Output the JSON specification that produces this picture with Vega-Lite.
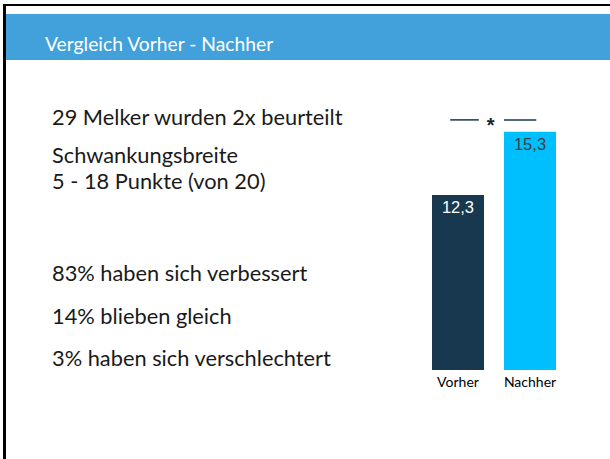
{
  "$schema": "https://vega.github.io/schema/vega-lite/v6.json",
  "padding": {"left": 3, "top": 4, "right": 0, "bottom": 0},
  "background": "white",
  "spacing": 0,
  "config": {
    "view": {"stroke": null},
    "concat": {"spacing": 0},
    "locale": {"number": {"decimal": ",", "thousands": ".", "grouping": [3], "currency": ["", " €"]}}
  },
  "vconcat": [
    {
      "width": 607, "height": 2,
      "view": {"fill": "#000000", "stroke": null},
      "data": {"values": []},
      "mark": "rect",
      "encoding": {}
    },
    {
      "spacing": 0,
      "hconcat": [
        {
          "width": 3, "height": 453,
          "view": {"fill": "#000000", "stroke": null},
          "data": {"values": []},
          "mark": "rect",
          "encoding": {}
        },
        {
          "spacing": 0,
          "vconcat": [
            {
              "width": 604, "height": 8,
              "view": {"fill": "#ffffff", "stroke": null},
              "data": {"values": []},
              "mark": "rect",
              "encoding": {}
            },
            {
              "spacing": 0,
              "hconcat": [
                {
                  "width": 39, "height": 46,
                  "view": {"fill": "#42a1db", "stroke": null},
                  "data": {"values": []},
                  "mark": "rect",
                  "encoding": {}
                },
                {
                  "width": 565, "height": 46,
                  "view": {"fill": "#42a1db", "stroke": null},
                  "data": {"values": [{"titel": "Vergleich Vorher - Nachher"}]},
                  "mark": {"type": "text", "align": "left", "baseline": "alphabetic", "font": "Lato", "fontSize": 19.3, "color": "#ffffff"},
                  "encoding": {
                    "text": {"field": "titel", "type": "nominal"},
                    "x": {"datum": 0, "type": "quantitative", "scale": {"domain": [0, 1]}, "axis": null},
                    "y": {"datum": 0.2, "type": "quantitative", "scale": {"domain": [0, 1]}, "axis": null}
                  }
                }
              ]
            },
            {
              "spacing": 0,
              "hconcat": [
                {
                  "width": 46, "height": 1,
                  "data": {"values": []},
                  "mark": "rect",
                  "encoding": {}
                },
                {
                  "width": 362, "height": 399,
                  "data": {"values": [
                    {"zeile": 1.53, "text": "29 Melker wurden 2x beurteilt"},
                    {"zeile": 2.42, "text": "Schwankungsbreite"},
                    {"zeile": 3.04, "text": "5 - 18 Punkte (von 20)"},
                    {"zeile": 5.2, "text": "83% haben sich verbessert"},
                    {"zeile": 6.21, "text": "14% blieben gleich"},
                    {"zeile": 7.2, "text": "3% haben sich verschlechtert"}
                  ]},
                  "mark": {"type": "text", "align": "left", "baseline": "alphabetic", "font": "Lato", "fontSize": 21.8, "color": "#1a1a1a"},
                  "encoding": {
                    "text": {"field": "text", "type": "nominal"},
                    "x": {"datum": 0, "type": "quantitative", "scale": {"domain": [0, 1]}, "axis": null},
                    "y": {"field": "zeile", "type": "quantitative", "scale": {"domain": [0, 9.388], "reverse": true, "nice": false, "zero": false}, "axis": null}
                  }
                },
                {
                  "width": 160, "height": 310,
                  "layer": [
                    {
                      "data": {"values": [
                        {"zeitpunkt": "Vorher", "punkte": 12.3},
                        {"zeitpunkt": "Nachher", "punkte": 15.3}
                      ]},
                      "layer": [
                        {
                          "mark": {"type": "bar"},
                          "encoding": {
                            "x": {"field": "zeitpunkt", "type": "nominal", "sort": null,
                                  "scale": {"domain": ["Vorher", "Nachher"], "paddingInner": 0.2778, "paddingOuter": 0.25},
                                  "axis": {"title": null, "domain": false, "ticks": false, "labelAngle": 0, "labelFont": "Lato", "labelFontSize": 14, "labelColor": "#000000", "labelPadding": 5}},
                            "y": {"field": "punkte", "type": "quantitative", "scale": {"domain": [4, 18.7], "zero": false, "nice": false}, "axis": null},
                            "y2": {"datum": 4},
                            "color": {"field": "zeitpunkt", "type": "nominal", "scale": {"domain": ["Vorher", "Nachher"], "range": ["#17384f", "#00bfff"]}, "legend": null}
                          }
                        },
                        {
                          "mark": {"type": "text", "baseline": "middle", "dy": 13, "font": "Liberation Sans", "fontSize": 16.5},
                          "encoding": {
                            "x": {"field": "zeitpunkt", "type": "nominal", "sort": null},
                            "y": {"field": "punkte", "type": "quantitative"},
                            "text": {"field": "punkte", "type": "quantitative", "format": ".1f"},
                            "color": {"condition": {"test": "datum.zeitpunkt === 'Vorher'", "value": "#ffffff"}, "value": "#404040"}
                          }
                        }
                      ]
                    },
                    {
                      "data": {"values": [
                        {"von": "Vorher", "bis": "Nachher", "signifikanz": "*", "hoehe": 15.86}
                      ]},
                      "layer": [
                        {
                          "mark": {"type": "rule", "color": "#17384f", "strokeWidth": 1.5},
                          "encoding": {
                            "x": {"field": "von", "type": "nominal", "bandPosition": 0.35},
                            "x2": {"field": "von", "bandPosition": 0.9},
                            "y": {"field": "hoehe", "type": "quantitative"}
                          }
                        },
                        {
                          "mark": {"type": "rule", "color": "#17384f", "strokeWidth": 1.5},
                          "encoding": {
                            "x": {"field": "bis", "type": "nominal", "bandPosition": 0},
                            "x2": {"field": "bis", "bandPosition": 0.62},
                            "y": {"field": "hoehe", "type": "quantitative"}
                          }
                        },
                        {
                          "mark": {"type": "text", "baseline": "alphabetic", "dy": 12, "font": "Liberation Sans", "fontSize": 20, "fontWeight": "bold", "color": "#222222"},
                          "encoding": {
                            "x": {"field": "von", "type": "nominal", "bandPosition": 1.13},
                            "y": {"field": "hoehe", "type": "quantitative"},
                            "text": {"field": "signifikanz", "type": "nominal"}
                          }
                        }
                      ]
                    }
                  ]
                }
              ]
            }
          ]
        }
      ]
    }
  ]
}
